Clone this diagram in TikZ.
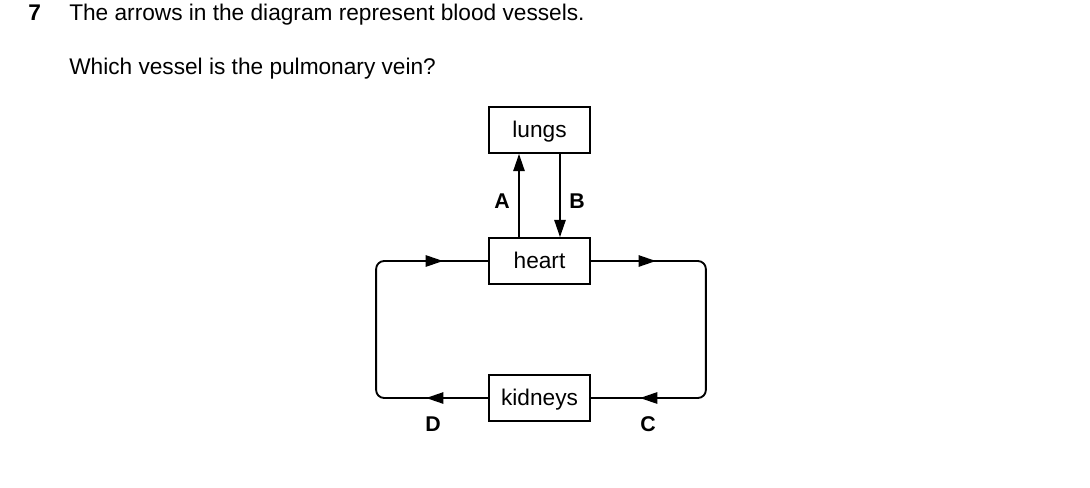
\documentclass[tikz,border=0pt]{standalone}
\usepackage{fontspec}
\setmainfont{Liberation Sans}
\usetikzlibrary{arrows.meta,decorations.markings,calc}
\begin{document}
\begin{tikzpicture}[x=0.75pt,y=-0.75pt,
  organ/.style={draw,line width=1.3pt,minimum width=75.75pt,minimum height=34.5pt,inner sep=0pt,text height=14pt,text depth=3pt,font=\fontsize{17}{20}\selectfont},
  vessel/.style={line width=1.4pt},
  tip/.style={-{Triangle[length=13pt,width=8.5pt]}},
  lbl/.style={font=\fontsize{16}{18}\selectfont\bfseries},
  txt/.style={anchor=base west,inner sep=0pt,font=\fontsize{17}{20}\selectfont},
  midarrows/.style 2 args={postaction={decorate},decoration={markings,
    mark=at position #1 with {\arrow{Triangle[length=13pt,width=8.5pt]}},
    mark=at position #2 with {\arrow{Triangle[length=13pt,width=8.5pt]}}}}]
\useasboundingbox (0,0) rectangle (1090,487);
\node[txt,font=\fontsize{17}{20}\selectfont\bfseries] (num) at (28,20) {7};
\node[txt] (q1) at (69,20) {The arrows in the diagram represent blood vessels.};
\node[txt] (q2) at (69,74) {Which vessel is the pulmonary vein?};
\node[organ] (lungs) at (539.5,130) {lungs};
\node[organ] (heart) at (539.5,261) {heart};
\node[organ] (kidneys) at (539.5,398) {kidneys};
\draw[vessel,tip] ($(heart.north)+(-20.5,0)$) -- ($(lungs.south)+(-20.5,0)$);
\draw[vessel,tip] ($(lungs.south)+(20.5,0)$) -- ($(heart.north)+(20.5,0)$);
\node[lbl] (A) at (502,201) {A};
\node[lbl] (B) at (577,201) {B};
\draw[vessel,rounded corners=6pt,midarrows={46.5pt}{231.75pt}] (kidneys.west) -- ++(-112,0) |- (heart.west);
\draw[vessel,rounded corners=6pt,midarrows={48.75pt}{233.25pt}] (heart.east) -- ++(115,0) |- (kidneys.east);
\node[lbl] (D) at (433,424) {D};
\node[lbl] (C) at (648,424) {C};
\end{tikzpicture}
\end{document}
